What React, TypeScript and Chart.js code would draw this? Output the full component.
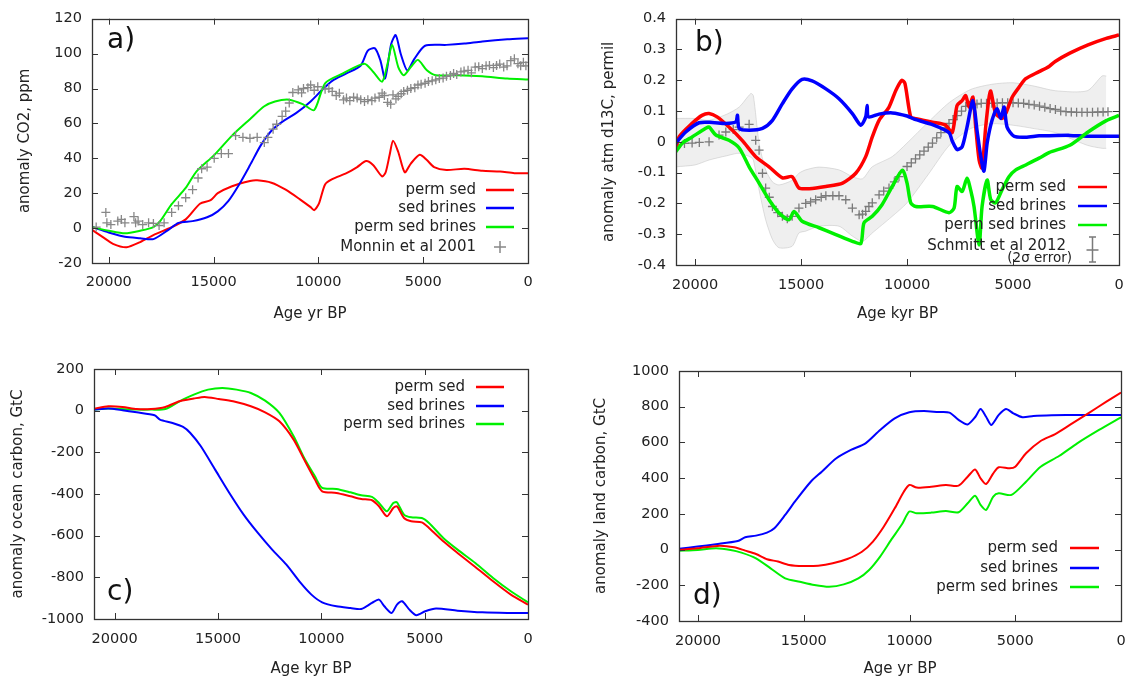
import React, { useEffect, useRef } from "react";
import { Chart, registerables } from "chart.js";
Chart.register(...registerables);

type Pair = [number, number];

const FONT = "'DejaVu Sans', Verdana, sans-serif";
const INK = "#222222";
const RED = "#ff0000";
const BLUE = "#0000ff";
const GREEN = "#00f000";
const GRAY = "#7a7a7a";

const SERIES_NAMES = ["perm sed", "sed brines", "perm sed brines"];
const X_TICKS = [0, 5000, 10000, 15000, 20000];
const A_Y_TICKS = [-20, 0, 20, 40, 60, 80, 100, 120];
const B_Y_TICKS = [-0.4, -0.3, -0.2, -0.1, 0, 0.1, 0.2, 0.3, 0.4];
const C_Y_TICKS = [-1000, -800, -600, -400, -200, 0, 200];
const D_Y_TICKS = [-400, -200, 0, 200, 400, 600, 800, 1000];

// ---------- panel a: CO2 anomaly (ppm) ----------
const A_PERM_SED: Pair[] = [[20800,-1],[20300,-5],[19800,-9],[19150,-11],[18500,-8],[17870,-4],[17000,0.5],[16330,5],[15650,14],[15140,16],[14800,20],[14120,24],[13265,27],[12920,27.4],[12240,26],[11560,22],[10880,16.5],[10370,12],[10200,10.3],[9975,14],[9680,25],[9340,28],[8660,31.5],[8150,35],[7720,38.4],[7380,36],[6960,29.6],[6790,32],[6600,42],[6440,50],[6190,43.6],[5880,32],[5590,37],[5166,42],[4825,39],[4480,35],[3890,33.3],[3035,34],[2180,32.8],[1330,32.4],[650,31.5],[0,31.5]];
const A_SED_BRINES: Pair[] = [[20800,0.6],[20000,-2.5],[19230,-5],[18500,-5.8],[17870,-6.3],[17190,-1.3],[16675,3],[16000,4],[15310,6.2],[14800,9.6],[14290,15.6],[13780,25],[13265,36],[12750,47.4],[12240,55.8],[11730,60.9],[11050,66],[10370,72.6],[9855,78.8],[9340,84.4],[8660,88.6],[7980,93.2],[7640,101.7],[7300,103],[7040,96],[6820,85.7],[6530,105.4],[6310,110.6],[6070,99.8],[5760,90.4],[5420,97],[4910,104.5],[3890,105],[3035,105.8],[2180,107],[990,108.2],[0,108.8]];
const A_PERM_SED_BRINES: Pair[] = [[20800,0.6],[20000,-1.5],[19230,-3],[18500,-1.5],[17870,0.6],[17530,4.3],[17000,13.7],[16330,23],[15820,32.4],[14970,41.8],[14120,53],[13265,62.4],[12580,69.8],[12070,72.6],[11390,73.6],[10710,70.8],[10200,67.6],[9680,83],[8830,88.6],[7810,94.2],[7380,89.5],[6960,83.9],[6700,94.2],[6480,105],[6190,92.3],[5930,87.6],[5590,92.3],[5250,96.4],[4825,90.4],[4400,87.6],[3380,87.6],[2180,87],[990,85.7],[0,85.2]];
const A_MONNIN: Pair[] = [[20600,0.6],[20140,9],[20090,3],[19900,2],[19570,4],[19400,5],[19230,3],[18800,6.6],[18720,3],[18600,4],[18380,2],[18100,3],[17870,2.7],[17600,1.5],[17360,3],[17000,9],[16675,12.8],[16330,17.4],[16000,22],[15740,28.7],[15570,34],[15310,35],[14970,40],[14630,42.7],[14290,42.7],[13950,53],[13600,52],[13265,51.5],[12920,52],[12580,49],[12410,52],[12160,56.7],[11990,59.5],[11730,64],[11560,67],[11390,71.7],[11220,77.7],[10960,79.2],[10800,77.5],[10710,80],[10500,80.5],[10370,82],[10200,79],[10030,81],[9680,79.6],[9500,80],[9340,78.3],[9150,76],[9000,77.3],[8800,73.5],[8660,74.5],[8500,73],[8320,75],[8150,74.5],[7980,73.6],[7800,72.5],[7640,73.6],[7450,73],[7300,74.5],[7100,75],[6960,77.3],[6850,76],[6700,72],[6550,71],[6440,76.4],[6300,74],[6190,75.5],[6050,77],[5930,78.3],[5750,79],[5590,80],[5400,80.5],[5250,82],[5100,82.5],[4910,83],[4750,84],[4570,84.4],[4400,85],[4230,85.7],[4050,86],[3890,87],[3700,87.5],[3550,88.6],[3400,88],[3200,89.5],[3050,90],[2860,90.4],[2700,89],[2520,92.3],[2350,92.5],[2180,91.4],[2000,93],[1840,93.2],[1650,92],[1500,93.2],[1350,94],[1160,92.3],[1000,93],[820,96],[650,97],[480,94.2],[350,93],[220,95],[100,93]];

// ---------- panel b: atmospheric d13C anomaly (permil) ----------
const B_PERM_SED: Pair[] = [[20910,-0.027],[20755,0.016],[20140,0.06],[19670,0.086],[19340,0.092],[18960,0.081],[18400,0.048],[17780,0.005],[17140,-0.048],[16510,-0.081],[15880,-0.117],[15420,-0.113],[15100,-0.15],[14620,-0.152],[13830,-0.145],[13040,-0.134],[12420,-0.102],[11950,-0.048],[11640,0.016],[11320,0.07],[10850,0.113],[10530,0.167],[10250,0.2],[10100,0.19],[9825,0.081],[9590,0.075],[8800,0.064],[8200,0.055],[7870,0.03],[7640,0.118],[7400,0.134],[7230,0.15],[7075,0.113],[6890,0.145],[6760,0.048],[6600,-0.059],[6460,-0.085],[6290,0.048],[6130,0.145],[6050,0.165],[5820,0.093],[5520,0.076],[5345,0.092],[5040,0.145],[4720,0.177],[4400,0.205],[3770,0.228],[3300,0.245],[3010,0.261],[2320,0.288],[1460,0.315],[600,0.336],[0,0.347]];
const B_SED_BRINES: Pair[] = [[20910,-0.004],[20440,0.032],[19810,0.062],[19180,0.063],[18550,0.06],[18080,0.065],[18000,0.086],[17920,0.044],[17450,0.038],[16820,0.044],[16350,0.07],[15880,0.124],[15420,0.172],[14950,0.203],[14480,0.198],[13830,0.172],[13210,0.14],[12580,0.092],[12180,0.054],[11950,0.081],[11880,0.118],[11820,0.081],[11320,0.09],[10700,0.094],[10000,0.084],[9590,0.072],[8800,0.056],[8020,0.03],[7870,0.003],[7640,-0.025],[7400,-0.016],[7170,0.048],[6890,0.134],[6700,0.038],[6520,-0.048],[6370,-0.095],[6220,-0.004],[5990,0.07],[5750,0.108],[5580,0.076],[5420,0.113],[5280,0.048],[4950,0.018],[4400,0.015],[3770,0.02],[3300,0.02],[2320,0.021],[1460,0.018],[0,0.018]];
const B_PERM_SED_BRINES: Pair[] = [[20910,-0.032],[20600,-0.004],[20140,0.016],[19500,0.044],[19340,0.048],[19020,0.022],[18400,0.005],[17920,-0.02],[17450,-0.081],[16980,-0.134],[16510,-0.188],[16040,-0.231],[15570,-0.253],[15330,-0.226],[14950,-0.258],[14150,-0.279],[13360,-0.301],[12580,-0.323],[12180,-0.33],[12030,-0.263],[11640,-0.242],[11180,-0.204],[10700,-0.145],[10220,-0.092],[10000,-0.134],[9825,-0.198],[9590,-0.21],[8800,-0.21],[8020,-0.23],[7780,-0.215],[7640,-0.145],[7400,-0.161],[7170,-0.118],[7000,-0.156],[6840,-0.21],[6600,-0.335],[6460,-0.21],[6220,-0.124],[6050,-0.188],[5820,-0.198],[5520,-0.156],[5190,-0.113],[4870,-0.091],[4400,-0.075],[3770,-0.053],[3300,-0.035],[2320,-0.011],[1460,0.032],[600,0.069],[0,0.086]];
const B_SCHMITT: Pair[] = [[20850,-0.01],[20500,-0.005],[20140,-0.004],[19800,-0.002],[19340,0],[18870,0.022],[18550,0.032],[18200,0.04],[17920,0.048],[17450,0.057],[17140,0.005],[16980,-0.027],[16820,-0.102],[16670,-0.15],[16500,-0.18],[16350,-0.21],[16100,-0.23],[15880,-0.242],[15650,-0.25],[15420,-0.242],[15100,-0.215],[14780,-0.2],[14550,-0.195],[14310,-0.188],[14050,-0.18],[13830,-0.175],[13500,-0.175],[13210,-0.175],[12890,-0.188],[12580,-0.215],[12260,-0.237],[12100,-0.235],[11950,-0.226],[11800,-0.21],[11640,-0.198],[11320,-0.172],[11100,-0.16],[10850,-0.15],[10600,-0.13],[10380,-0.113],[10000,-0.08],[9800,-0.068],[9600,-0.055],[9400,-0.042],[9200,-0.03],[9000,-0.017],[8800,-0.004],[8600,0.013],[8400,0.03],[8200,0.045],[8020,0.06],[7830,0.072],[7640,0.085],[7430,0.1],[7230,0.115],[7050,0.118],[6900,0.12],[6700,0.123],[6500,0.125],[6250,0.125],[6000,0.125],[5750,0.126],[5500,0.127],[5250,0.127],[5000,0.127],[4750,0.126],[4500,0.125],[4250,0.122],[4000,0.12],[3750,0.116],[3500,0.112],[3250,0.108],[3000,0.105],[2750,0.1],[2500,0.098],[2250,0.097],[2000,0.096],[1750,0.096],[1500,0.096],[1250,0.096],[1000,0.097],[750,0.097],[520,0.098]];
const B_BAND_UPPER: Pair[] = [[20900,0.076],[20000,0.076],[19340,0.07],[18500,0.09],[17920,0.113],[17370,0.157],[17250,0.15],[16980,-0.004],[16670,-0.091],[16350,-0.13],[16040,-0.14],[15420,-0.125],[15100,-0.102],[14780,-0.091],[14150,-0.082],[13210,-0.091],[12580,-0.113],[12100,-0.12],[11640,-0.081],[10700,-0.048],[10000,-0.004],[9000,0.064],[8000,0.128],[7000,0.17],[6000,0.187],[5000,0.192],[4000,0.181],[3000,0.166],[1500,0.166],[800,0.214],[600,0.214]];
const B_BAND_LOWER: Pair[] = [[20900,-0.081],[20000,-0.075],[19340,-0.059],[18500,-0.045],[17920,-0.037],[17370,-0.05],[17250,-0.059],[16980,-0.156],[16670,-0.253],[16350,-0.317],[16040,-0.344],[15420,-0.339],[15100,-0.296],[14780,-0.29],[14150,-0.274],[13210,-0.274],[12580,-0.306],[12100,-0.323],[11640,-0.296],[10700,-0.242],[10000,-0.198],[9000,-0.106],[8000,-0.011],[7000,0.043],[6000,0.059],[5000,0.054],[4000,0.043],[3000,0.03],[1500,-0.011],[800,-0.021],[600,-0.021]];

// ---------- panel c: ocean carbon anomaly (GtC) ----------
const C_PERM_SED: Pair[] = [[21000,10],[20310,21],[19620,18],[18930,8],[18240,8],[17550,18],[16860,45],[16170,58],[15650,66],[14960,56],[14270,45],[13410,21],[12720,-8],[12030,-51],[11340,-139],[10830,-235],[10310,-331],[9960,-387],[9270,-395],[8590,-411],[8070,-424],[7550,-430],[7210,-459],[6830,-507],[6520,-467],[6340,-459],[6000,-515],[5650,-531],[5140,-536],[4790,-563],[4100,-627],[3410,-683],[2550,-750],[1690,-819],[830,-883],[0,-931]];
const C_SED_BRINES: Pair[] = [[21000,5],[20310,10],[19620,2],[18930,-8],[18070,-22],[17810,-43],[17200,-59],[16690,-78],[16340,-107],[15830,-171],[15140,-283],[14450,-395],[13760,-499],[13070,-587],[12380,-667],[11690,-739],[11000,-827],[10480,-883],[9960,-920],[9270,-939],[8590,-947],[8070,-952],[7550,-923],[7210,-907],[6950,-939],[6600,-971],[6340,-931],[6090,-915],[5740,-955],[5400,-982],[4970,-963],[4450,-950],[3410,-960],[2210,-968],[1000,-971],[0,-971]];
const C_PERM_SED_BRINES: Pair[] = [[21000,5],[20310,10],[18930,5],[18240,5],[17550,8],[16860,45],[16170,77],[15480,101],[14790,109],[14100,101],[13410,85],[12720,48],[12030,-11],[11340,-123],[10830,-227],[10310,-315],[9960,-371],[9270,-376],[8590,-392],[8070,-406],[7550,-414],[7210,-443],[6830,-483],[6520,-443],[6340,-440],[6000,-499],[5650,-512],[5140,-515],[4790,-539],[4100,-611],[3410,-667],[2550,-731],[1690,-803],[830,-867],[0,-920]];

// ---------- panel d: land carbon anomaly (GtC) ----------
const D_PERM_SED: Pair[] = [[20900,-2],[20020,7],[18980,22],[18290,13],[17770,-6],[17260,-25],[16740,-54],[16220,-67],[15700,-86],[15010,-92],[14320,-90],[13630,-77],[12940,-53],[12250,-12],[11730,45],[11220,128],[10700,231],[10270,324],[10010,362],[9660,347],[8970,352],[8280,362],[7680,358],[7250,408],[6900,449],[6640,399],[6380,367],[6040,427],[5780,461],[5260,455],[5000,464],[4490,539],[3800,608],[3110,647],[2420,698],[1550,763],[690,828],[0,879]];
const D_SED_BRINES: Pair[] = [[20900,4],[20020,17],[19150,30],[18120,48],[17770,69],[17260,78],[16740,95],[16390,119],[15880,194],[15360,278],[14670,380],[14150,436],[13460,511],[12770,558],[12080,595],[11390,670],[10700,735],[10010,769],[9320,776],[8630,770],[8110,767],[7680,726],[7250,701],[6900,741],[6640,787],[6380,744],[6130,698],[5780,754],[5440,787],[5090,763],[4660,741],[4140,748],[3280,752],[1900,754],[0,754]];
const D_PERM_SED_BRINES: Pair[] = [[20900,-6],[20020,-2],[19150,7],[18460,-2],[17950,-17],[17260,-49],[16570,-105],[15880,-161],[15190,-180],[14500,-198],[13800,-208],[13110,-195],[12420,-161],[11910,-114],[11390,-39],[10870,54],[10350,143],[10010,213],[9660,203],[8970,207],[8280,216],[7680,209],[7250,259],[6900,302],[6640,250],[6380,222],[6040,297],[5780,315],[5180,306],[4490,380],[3800,464],[2930,524],[2070,595],[1040,670],[0,741]];

const toXY = (d: Pair[]) => d.map(([x, y]) => ({ x, y }));

const lineDs = (label: string, data: Pair[], color: string, width: number, order: number) => ({
  label, data: toXY(data), borderColor: color, backgroundColor: color, borderWidth: width,
  pointRadius: 0, tension: 0.25, fill: false, order,
});
const crossDs = (label: string, data: Pair[], color: string, order: number) => ({
  label, data: toXY(data), showLine: false, pointStyle: "cross", pointRadius: 4.5,
  pointBorderColor: color, pointBorderWidth: 1.3, borderColor: color, backgroundColor: color, order,
});

// Custom gnuplot-like decorations: box, inward mirrored ticks, inside legend, panel letter
const gnuPlugin = {
  id: "gnu",
  afterDatasetsDraw(chart: any, _args: any, o: any) {
    const { ctx, chartArea: ca, scales } = chart;
    const xs = scales.x, ys = scales.y;
    ctx.save();
    ctx.strokeStyle = "#333";
    ctx.lineWidth = 1;
    const TL = 6;
    ctx.beginPath();
    xs.ticks.forEach((t: any) => {
      const px = Math.round(xs.getPixelForValue(t.value)) + 0.5;
      if (px <= ca.left + 1 || px >= ca.right - 1) return;
      ctx.moveTo(px, ca.bottom); ctx.lineTo(px, ca.bottom - TL);
      ctx.moveTo(px, ca.top); ctx.lineTo(px, ca.top + TL);
    });
    ys.ticks.forEach((t: any) => {
      const py = Math.round(ys.getPixelForValue(t.value)) + 0.5;
      if (py <= ca.top + 1 || py >= ca.bottom - 1) return;
      ctx.moveTo(ca.left, py); ctx.lineTo(ca.left + TL, py);
      ctx.moveTo(ca.right, py); ctx.lineTo(ca.right - TL, py);
    });
    ctx.stroke();
    ctx.lineWidth = 1.3;
    ctx.strokeRect(Math.round(ca.left) + 0.5, Math.round(ca.top) + 0.5, Math.round(ca.width), Math.round(ca.height));

    // legend
    const L = o.legend;
    ctx.font = `15px ${FONT}`;
    ctx.textAlign = "right";
    ctx.textBaseline = "middle";
    L.items.forEach((it: any, i: number) => {
      const y = L.rows[i];
      ctx.fillStyle = INK;
      ctx.fillText(it.text, L.textRight, y);
      ctx.strokeStyle = it.color;
      if (it.kind === "line") {
        ctx.lineWidth = 2.5;
        ctx.beginPath(); ctx.moveTo(L.x1, y); ctx.lineTo(L.x2, y); ctx.stroke();
      } else {
        const cx = (L.x1 + L.x2) / 2;
        const cy = it.kind === "errbar" ? y + 4 : y;
        ctx.lineWidth = 1.5;
        ctx.beginPath();
        ctx.moveTo(cx - 6, cy); ctx.lineTo(cx + 6, cy);
        ctx.moveTo(cx, cy - 6); ctx.lineTo(cx, cy + 6);
        if (it.kind === "errbar") {
          ctx.moveTo(cx, cy - 13); ctx.lineTo(cx, cy + 12);
          ctx.moveTo(cx - 3.5, cy - 13); ctx.lineTo(cx + 3.5, cy - 13);
          ctx.moveTo(cx - 3.5, cy + 12); ctx.lineTo(cx + 3.5, cy + 12);
        }
        ctx.stroke();
      }
    });
    if (L.note) {
      ctx.font = `13.5px ${FONT}`;
      ctx.fillStyle = INK;
      ctx.fillText(L.note.text, L.note.right, L.note.y);
    }
    // panel letter
    ctx.font = `28px ${FONT}`;
    ctx.textAlign = "left";
    ctx.fillStyle = "#111";
    ctx.fillText(o.letter.text, o.letter.x, o.letter.y);
    ctx.restore();
  },
};

type PanelDef = {
  left: number; top: number; w: number; h: number;
  area: { left: number; right: number; top: number; bottom: number };
  xMax: number; yTicks: number[]; yTitle: string; xTitle: string;
  yTitlePad: number; xTitlePad: number; xTickPad: number;
  datasets: any[]; legend: any; letter: any;
};

function makeConfig(p: PanelDef): any {
  const font = { family: FONT, size: 15 };
  const tickFont = { family: FONT, size: 14.5 };
  return {
    type: "line",
    data: { datasets: p.datasets },
    plugins: [gnuPlugin],
    options: {
      responsive: false, animation: false, devicePixelRatio: 1, events: [],
      layout: { padding: { left: 0, top: p.area.top, right: p.w - p.area.right, bottom: 0 } },
      plugins: {
        legend: { display: false }, tooltip: { enabled: false },
        gnu: { legend: p.legend, letter: p.letter },
      },
      scales: {
        x: {
          type: "linear", reverse: true, min: 0, max: p.xMax,
          grid: { display: false, drawTicks: false }, border: { display: false },
          afterBuildTicks: (s: any) => { s.ticks = X_TICKS.map((v) => ({ value: v })); },
          afterFit: (s: any) => { s.height = p.h - p.area.bottom; },
          ticks: { padding: p.xTickPad, color: INK, font: tickFont, autoSkip: false, maxRotation: 0, callback: (v: any) => String(v) },
          title: { display: true, text: p.xTitle, color: INK, font, padding: { top: 0, bottom: p.xTitlePad } },
        },
        y: {
          type: "linear", min: p.yTicks[0], max: p.yTicks[p.yTicks.length - 1],
          grid: { display: false, drawTicks: false }, border: { display: false },
          afterBuildTicks: (s: any) => { s.ticks = p.yTicks.map((v) => ({ value: v })); },
          afterFit: (s: any) => { s.width = p.area.left; },
          ticks: { padding: 10, color: INK, font: tickFont, autoSkip: false, callback: (v: any) => String(v) },
          title: { display: true, text: p.yTitle, color: INK, font, padding: { top: p.yTitlePad, bottom: 0 } },
        },
      },
    },
  };
}

const legendItems = (colors: string[]) => SERIES_NAMES.map((t, i) => ({ text: t, color: colors[i], kind: "line" }));

const PANELS: PanelDef[] = [
  {
    left: 0, top: 0, w: 565, h: 330,
    area: { left: 92, right: 528, top: 14, bottom: 263 },
    xMax: 20800, yTicks: A_Y_TICKS, yTitle: "anomaly CO2, ppm", xTitle: "Age yr BP",
    yTitlePad: 16, xTitlePad: 7, xTickPad: 11,
    datasets: [
      lineDs(SERIES_NAMES[2], A_PERM_SED_BRINES, GREEN, 2, 2),
      lineDs(SERIES_NAMES[1], A_SED_BRINES, BLUE, 2, 3),
      lineDs(SERIES_NAMES[0], A_PERM_SED, RED, 2, 4),
      crossDs("Monnin et al 2001", A_MONNIN, "#888888", 1),
    ],
    legend: {
      textRight: 476, x1: 486, x2: 514, rows: [190, 208, 227, 247],
      items: [...legendItems([RED, BLUE, GREEN]), { text: "Monnin et al 2001", color: "#888888", kind: "cross" }],
    },
    letter: { text: "a)", x: 107, y: 41 },
  },
  {
    left: 565, top: 0, w: 566, h: 330,
    area: { left: 111, right: 554, top: 16, bottom: 265 },
    xMax: 20900, yTicks: B_Y_TICKS, yTitle: "anomaly atm d13C, permil", xTitle: "Age kyr BP",
    yTitlePad: 35, xTitlePad: 7, xTickPad: 12,
    datasets: [
      lineDs(SERIES_NAMES[2], B_PERM_SED_BRINES, GREEN, 3.5, 1),
      lineDs(SERIES_NAMES[1], B_SED_BRINES, BLUE, 3.5, 2),
      lineDs(SERIES_NAMES[0], B_PERM_SED, RED, 3.5, 3),
      crossDs("Schmitt et al 2012", B_SCHMITT, GRAY, 4),
      { label: "band upper", data: toXY(B_BAND_UPPER), borderColor: "rgba(190,190,190,0.6)", borderWidth: 0.8, pointRadius: 0, tension: 0.25, fill: false, order: 5 },
      { label: "band lower", data: toXY(B_BAND_LOWER), borderColor: "rgba(190,190,190,0.6)", borderWidth: 0.8, pointRadius: 0, tension: 0.25, fill: "-1", backgroundColor: "rgba(205,205,205,0.32)", order: 6 },
    ],
    legend: {
      textRight: 501, x1: 513, x2: 542, rows: [187, 206, 225, 246],
      items: [...legendItems([RED, BLUE, GREEN]), { text: "Schmitt et al 2012", color: GRAY, kind: "errbar" }],
      note: { text: "(2σ error)", right: 507, y: 258 },
    },
    letter: { text: "b)", x: 130, y: 44 },
  },
  {
    left: 0, top: 330, w: 565, h: 348,
    area: { left: 94, right: 528, top: 39, bottom: 289 },
    xMax: 21000, yTicks: C_Y_TICKS, yTitle: "anomaly ocean carbon, GtC", xTitle: "Age kyr BP",
    yTitlePad: 9, xTitlePad: 0, xTickPad: 12,
    datasets: [
      lineDs(SERIES_NAMES[2], C_PERM_SED_BRINES, GREEN, 2, 3),
      lineDs(SERIES_NAMES[1], C_SED_BRINES, BLUE, 2, 2),
      lineDs(SERIES_NAMES[0], C_PERM_SED, RED, 2, 1),
    ],
    legend: { textRight: 465, x1: 476, x2: 504, rows: [57, 76, 94], items: legendItems([RED, BLUE, GREEN]) },
    letter: { text: "c)", x: 107, y: 263 },
  },
  {
    left: 565, top: 330, w: 566, h: 348,
    area: { left: 114, right: 556, top: 41, bottom: 291 },
    xMax: 20900, yTicks: D_Y_TICKS, yTitle: "anomaly land carbon, GtC", xTitle: "Age yr BP",
    yTitlePad: 27, xTitlePad: 0, xTickPad: 12,
    datasets: [
      lineDs(SERIES_NAMES[2], D_PERM_SED_BRINES, GREEN, 2, 3),
      lineDs(SERIES_NAMES[1], D_SED_BRINES, BLUE, 2, 2),
      lineDs(SERIES_NAMES[0], D_PERM_SED, RED, 2, 1),
    ],
    legend: { textRight: 493, x1: 505, x2: 534, rows: [218, 238, 257], items: legendItems([RED, BLUE, GREEN]) },
    letter: { text: "d)", x: 128, y: 267 },
  },
];

function Panel({ p }: { p: PanelDef }) {
  const ref = useRef<HTMLCanvasElement>(null);
  useEffect(() => {
    const chart = new Chart(ref.current as HTMLCanvasElement, makeConfig(p));
    return () => chart.destroy();
  }, [p]);
  return (
    <canvas
      ref={ref}
      width={p.w}
      height={p.h}
      style={{ position: "absolute", left: p.left, top: p.top, width: p.w, height: p.h }}
    />
  );
}

export default function App() {
  return (
    <div style={{ position: "absolute", left: 0, top: 0, width: 1131, height: 678, background: "#ffffff", overflow: "hidden" }}>
      {PANELS.map((p, i) => (
        <Panel key={i} p={p} />
      ))}
    </div>
  );
}
